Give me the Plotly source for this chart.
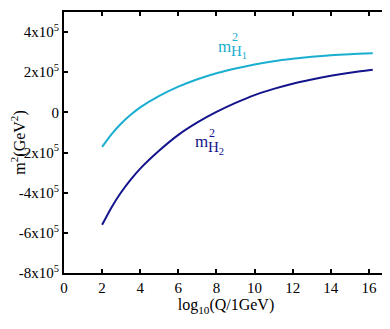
import plotly.graph_objects as go

# log10(Q/1GeV) sample points and running masses (GeV^2)
log_q = [2, 2.5, 3, 3.5, 4, 5, 6, 7, 8, 9, 10, 11, 12, 13, 14, 15, 16.2]
m2_h1 = [-1.72e5, -1.08e5, -0.55e5, -0.12e5, 0.25e5, 0.82e5, 1.28e5, 1.65e5,
         1.95e5, 2.19e5, 2.39e5, 2.55e5, 2.67e5, 2.77e5, 2.85e5, 2.9e5, 2.94e5]
m2_h2 = [-5.6e5, -4.72e5, -3.98e5, -3.35e5, -2.8e5, -1.9e5, -1.12e5, -0.5e5,
         0.02e5, 0.47e5, 0.86e5, 1.17e5, 1.43e5, 1.64e5, 1.82e5, 1.97e5, 2.12e5]

y_ticks = [4e5, 2e5, 0, -2e5, -4e5, -6e5, -8e5]
y_labels = ["4x10<sup>5</sup>", "2x10<sup>5</sup>", "0", "-2x10<sup>5</sup>",
            "-4x10<sup>5</sup>", "-6x10<sup>5</sup>", "-8x10<sup>5</sup>"]

cyan = "#1aaed0"
navy = "#14148c"
serif = "Liberation Serif"

fig = go.Figure()
fig.add_trace(go.Scatter(x=log_q, y=m2_h1, mode="lines", line=dict(color=cyan, width=2, shape="spline", smoothing=0.8)))
fig.add_trace(go.Scatter(x=log_q, y=m2_h2, mode="lines", line=dict(color=navy, width=2, shape="spline", smoothing=0.8)))


def mass_label(x, y, idx, color):
    # m with stacked superscript 2 and subscript H_idx
    fig.add_annotation(x=x, y=y, text="m", showarrow=False, xanchor="left", yanchor="middle",
                       font=dict(color=color, size=17, family=serif))
    fig.add_annotation(x=x, y=y, text="2", showarrow=False, xanchor="left", yanchor="middle",
                       xshift=14, yshift=9, font=dict(color=color, size=12, family=serif))
    fig.add_annotation(x=x, y=y, text="H<sub>%d</sub>" % idx, showarrow=False, xanchor="left", yanchor="middle",
                       xshift=13, yshift=-6, font=dict(color=color, size=15, family=serif))


mass_label(8.0, 3.3e5, 1, cyan)
mass_label(6.75, -1.45e5, 2, navy)

axis_common = dict(
    showline=True, linecolor="black", linewidth=2, mirror="ticks",
    ticks="inside", ticklen=4, tickwidth=1.5, tickcolor="black",
    showgrid=False, zeroline=False, automargin=False,
    tickfont=dict(family=serif, size=15, color="black"),
)

# the page body adds an 8px margin, so the figure is 8px smaller than the window
fig.update_layout(
    width=382, height=321,
    margin=dict(l=56, r=2, t=4, b=56),
    paper_bgcolor="white", plot_bgcolor="white",
    showlegend=False,
    font=dict(family=serif, color="black"),
    xaxis=dict(range=[0, 17], tickvals=list(range(0, 17, 2)),
               title=dict(text="log<sub>10</sub>(Q/1GeV)", font=dict(size=16, family=serif), standoff=4),
               **axis_common),
    yaxis=dict(range=[-8e5, 5e5], tickvals=y_ticks, ticktext=y_labels,
               title=dict(text="m<sup>2</sup>(GeV<sup>2</sup>)", font=dict(size=16, family=serif), standoff=0),
               **axis_common),
)

fig.write_html("out.html")
